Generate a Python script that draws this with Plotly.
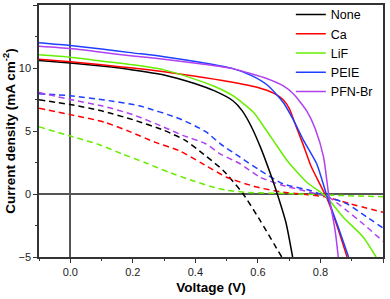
import plotly.graph_objects as go

# Solid (light) curves
none_v = [-0.1, 0.0, 0.1, 0.2, 0.3, 0.4, 0.46, 0.52, 0.55, 0.58, 0.61, 0.64, 0.662, 0.69, 0.711]
none_j = [10.6, 10.4, 10.15, 9.85, 9.45, 8.75, 8.2, 7.4, 6.6, 5.3, 3.6, 1.6, 0.0, -2.3, -5.0]

ca_v = [-0.1, 0.0, 0.1, 0.2, 0.3, 0.4, 0.5, 0.6, 0.65, 0.68, 0.7, 0.72, 0.745, 0.77, 0.8, 0.82, 0.85, 0.885]
ca_j = [10.7, 10.5, 10.25, 10.0, 9.7, 9.35, 8.95, 8.45, 8.0, 7.5, 6.8, 5.5, 3.9, 2.2, 0.7, -0.3, -2.3, -5.0]

lif_v = [-0.1, 0.0, 0.1, 0.2, 0.3, 0.4, 0.46, 0.52, 0.585, 0.623, 0.66, 0.692, 0.725, 0.76, 0.8, 0.82, 0.873, 0.937, 0.978]
lif_j = [11.05, 10.85, 10.55, 10.25, 9.85, 9.1, 8.55, 7.8, 6.5, 5.2, 3.85, 2.7, 1.75, 0.85, 0.15, -0.25, -1.84, -3.43, -5.0]

peie_v = [-0.1, 0.0, 0.1, 0.2, 0.3, 0.415, 0.52, 0.58, 0.63, 0.68, 0.713, 0.745, 0.788, 0.82, 0.855, 0.89]
peie_j = [12.0, 11.78, 11.5, 11.2, 10.9, 10.45, 9.95, 9.4, 8.65, 7.3, 5.9, 4.3, 2.4, -0.1, -2.5, -5.0]

pfn_v = [-0.1, 0.0, 0.1, 0.2, 0.3, 0.415, 0.52, 0.63, 0.68, 0.713, 0.756, 0.783, 0.81, 0.826, 0.847, 0.857]
pfn_j = [11.72, 11.54, 11.25, 10.95, 10.7, 10.34, 9.95, 9.15, 8.6, 7.96, 6.6, 5.2, 2.92, 0.0, -2.9, -5.0]

# Dashed (dark) curves
none_d_v = [-0.1, 0.0, 0.1, 0.2, 0.3, 0.368, 0.427, 0.489, 0.553, 0.607, 0.676]
none_d_j = [7.48, 7.1, 6.6, 5.9, 5.05, 4.25, 3.15, 1.87, 0.0, -2.1, -5.0]

ca_d_v = [-0.1, 0.0, 0.11, 0.19, 0.272, 0.347, 0.42, 0.5, 0.596, 0.68, 0.76, 0.82, 0.895, 1.0]
ca_d_j = [6.8, 6.3, 5.7, 4.95, 4.1, 3.45, 2.45, 1.33, 0.55, 0.14, -0.05, -0.25, -0.78, -1.45]

lif_d_v = [-0.1, 0.0, 0.091, 0.165, 0.24, 0.315, 0.39, 0.45, 0.5, 0.57, 0.7, 0.82, 1.0]
lif_d_j = [5.33, 4.6, 3.93, 3.19, 2.48, 1.73, 1.07, 0.6, 0.3, 0.12, 0.03, -0.08, -0.22]

peie_d_v = [-0.1, 0.0, 0.112, 0.22, 0.35, 0.433, 0.479, 0.543, 0.607, 0.68, 0.767, 0.826, 0.885, 0.949, 1.0]
peie_d_j = [7.95, 7.8, 7.45, 7.0, 5.97, 4.95, 4.0, 2.92, 1.87, 0.81, 0.28, -0.25, -0.78, -1.84, -2.7]

pfn_d_v = [-0.1, 0.0, 0.1, 0.2, 0.3, 0.36, 0.433, 0.479, 0.543, 0.607, 0.68, 0.767, 0.826, 0.885, 0.938, 1.0]
pfn_d_j = [8.05, 7.5, 7.0, 6.3, 5.3, 4.65, 3.99, 3.19, 2.4, 1.33, 0.68, 0.14, -0.25, -1.33, -2.4, -3.75]

names = ["None", "Ca", "LiF", "PEIE", "PFN-Br"]
colors = ["#000000", "#ff0000", "#66ee00", "#1f3fff", "#b040f0"]
solid = [(none_v, none_j), (ca_v, ca_j), (lif_v, lif_j), (peie_v, peie_j), (pfn_v, pfn_j)]
dashed = [(none_d_v, none_d_j), (ca_d_v, ca_d_j), (lif_d_v, lif_d_j), (peie_d_v, peie_d_j), (pfn_d_v, pfn_d_j)]

fig = go.Figure()
for (v, j), c, n in zip(dashed, colors, names):
    fig.add_trace(go.Scatter(x=v, y=j, mode="lines", showlegend=False,
                             line=dict(color=c, width=1.5, dash="6px,4px", shape="spline", smoothing=0.6)))
for (v, j), c, n in zip(solid, colors, names):
    fig.add_trace(go.Scatter(x=v, y=j, mode="lines", name=n,
                             line=dict(color=c, width=1.5, shape="spline", smoothing=0.6)))

axis_font = dict(family="Liberation Sans, Arial, sans-serif", size=11, color="#222")
fig.update_layout(
    width=390, height=299,
    margin=dict(l=39, r=7, t=5, b=42, autoexpand=False),
    paper_bgcolor="white", plot_bgcolor="white",
    font=dict(family="Liberation Sans, Arial, sans-serif", color="#000"),
    legend=dict(x=0.985, y=1.02, xanchor="right", yanchor="top",
                bgcolor="rgba(0,0,0,0)", font=dict(size=12.5),
                tracegroupgap=0, itemwidth=30),
    xaxis=dict(range=[-0.1, 1.0], tickvals=[0.0, 0.2, 0.4, 0.6, 0.8, 1.0],
               ticktext=["0.0", "0.2", "0.4", "0.6", "0.8", "1.0"],
               automargin=False,
               ticks="outside", ticklen=4, tickwidth=1, tickcolor="#333",
               minor=dict(dtick=0.1, tick0=0, ticks="outside", ticklen=2, tickcolor="#333", showgrid=False),
               showline=True, linecolor="#333", linewidth=1.5, mirror=True,
               showgrid=False, zeroline=True, zerolinecolor="#555", zerolinewidth=2,
               tickfont=axis_font,
               title=dict(text="<b>Voltage (V)</b>", font=dict(size=13.5), standoff=6)),
    yaxis=dict(range=[-5, 15], tickvals=[-5, 0, 5, 10, 15],
               automargin=False,
               ticks="outside", ticklen=4, tickwidth=1, tickcolor="#333",
               minor=dict(dtick=2.5, tick0=0, ticks="outside", ticklen=2, tickcolor="#333", showgrid=False),
               showline=True, linecolor="#333", linewidth=1.5, mirror=True,
               showgrid=False, zeroline=True, zerolinecolor="#555", zerolinewidth=2,
               tickfont=axis_font,
               title=dict(text="<b>Current density (mA cm<sup>-2</sup>)</b>", font=dict(size=13.5), standoff=3)),
)

fig.write_html("out.html", config={"displayModeBar": False},
               post_script="document.body.style.margin='0';document.body.style.overflow='hidden';")
